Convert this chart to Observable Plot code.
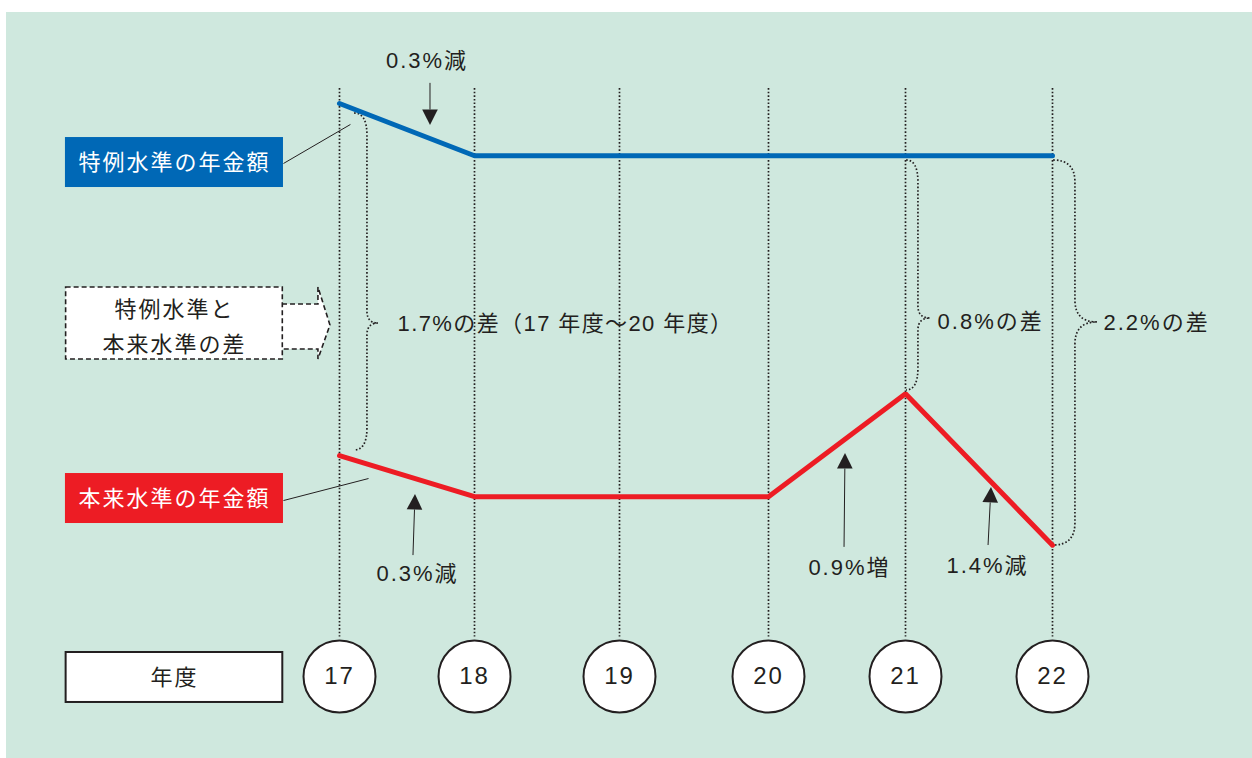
<!DOCTYPE html>
<html><head><meta charset="utf-8">
<script src="https://cdn.jsdelivr.net/npm/d3@7"></script>
<script src="https://cdn.jsdelivr.net/npm/@observablehq/plot@0.6"></script>
<style>
html,body{margin:0;padding:0;background:#fff;}
#wrap{padding:12px 0 0 6px;width:1246px;height:746px;}
#wrap svg{display:block;background:#cfe8de;}
#wrap svg text{letter-spacing:2px;}
</style></head>
<body><div id="wrap"></div>
<script>
// ---- data ----
const years = [17, 18, 19, 20, 21, 22];
const yearLabels = ["17", "18", "19", "20", "21", "22"];
const tokureiLevel = [87.8, 80.8, 80.8, 80.8, 80.8, 80.8];
const honraiLevel  = [40.6, 35.1, 35.1, 35.1, 48.9, 28.6];
const seriesNames = ["特例水準の年金額", "本来水準の年金額"];
const diffBoxText = "特例水準と\n本来水準の差";
const yearBoxText = "年度";
const changeLabels = ["0.3%減", "0.3%減", "0.9%増", "1.4%減"];
const gapLabels = ["1.7%の差（17 年度～20 年度）", "0.8%の差", "2.2%の差"];

const rows = years.flatMap((yr, i) => [
  {year: yr, level: tokureiLevel[i], series: seriesNames[0]},
  {year: yr, level: honraiLevel[i], series: seriesNames[1]}
]);

// ---- styles ----
const INK = "#231f20", BLUE = "#0068b6", RED = "#ed1c24";
const FONT = "'Liberation Sans', 'Noto Sans CJK JP', sans-serif";

// ---- annotation layout (data coordinates) ----
const arrowLayout = [
  {tail: [17.674, 90.5], tip: [17.674, 84.85], at: [17.648, 93.57]},
  {tail: [17.548, 27.2], tip: [17.563, 35.39], at: [17.578, 24.80]},
  {tail: [20.555, 28.3], tip: [20.562, 40.88], at: [20.591, 25.60]},
  {tail: [21.565, 28.55], tip: [21.585, 36.33], at: [21.558, 25.87]}
];
const braceLayout = [
  {xs: 17.111, xb: 17.207, xt: 17.289, yTop: 86.46, yTip: 58.31, yBot: 41.29, at: [17.430, 58.31]},
  {xs: 21.007, xb: 21.088, xt: 21.170, yTop: 80.16, yTip: 58.98, yBot: 49.33, at: [21.218, 58.58]},
  {xs: 22.007, xb: 22.156, xt: 22.306, yTop: 80.16, yTip: 58.45, yBot: 28.55, at: [22.347, 58.45]}
];
const boxX = [14.975, 16.580], boxCx = 15.778;

function svgMark(draw) {
  return (index, scales) => {
    const g = d3.create("svg:g");
    draw(g, scales.x, scales.y);
    return g.node();
  };
}

const arrowsMark = svgMark((g, X, Y) => {
  for (const a of arrowLayout) {
    const x0 = X(a.tail[0]), y0 = Y(a.tail[1]), x1 = X(a.tip[0]), y1 = Y(a.tip[1]);
    const len = Math.hypot(x1 - x0, y1 - y0), ux = (x1 - x0) / len, uy = (y1 - y0) / len;
    const hl = 15.5, hw = 7.8;
    const bx = x1 - ux * hl, by = y1 - uy * hl;
    g.append("line").attr("x1", x0).attr("y1", y0).attr("x2", bx).attr("y2", by)
      .attr("stroke", INK).attr("stroke-width", 1);
    g.append("path").attr("d", `M${x1},${y1}L${bx - uy * hw},${by + ux * hw}L${bx + uy * hw},${by - ux * hw}Z`)
      .attr("fill", INK);
  }
});

const bracesMark = svgMark((g, X, Y) => {
  for (const b of braceLayout) {
    const xs = X(b.xs), xb = X(b.xb), xt = X(b.xt);
    const yT = Y(b.yTop), yM = Y(b.yTip), yB = Y(b.yBot);
    const r = 22, r2 = Math.max(12, xt - xb);
    const p = d3.path();
    p.moveTo(xs, yT);
    p.quadraticCurveTo(xb, yT, xb, yT + r);
    p.lineTo(xb, yM - r2);
    p.quadraticCurveTo(xb, yM, xt, yM);
    p.quadraticCurveTo(xb, yM, xb, yM + r2);
    p.lineTo(xb, yB - r);
    p.quadraticCurveTo(xb, yB, xs, yB);
    g.append("path").attr("d", p.toString()).attr("fill", "none")
      .attr("stroke", INK).attr("stroke-width", 1.7).attr("stroke-dasharray", "1.6 2");
  }
});

const blockArrowMark = svgMark((g, X, Y) => {
  const pts = [[16.578, 60.86], [16.844, 60.86], [16.844, 63.14], [16.933, 58.05],
               [16.844, 53.49], [16.844, 54.83], [16.578, 54.83]];
  g.append("path").attr("d", "M" + pts.map(([a, b]) => `${X(a)},${Y(b)}`).join("L"))
    .attr("fill", "#fff").attr("stroke", INK).attr("stroke-width", 1.6)
    .attr("stroke-dasharray", "5 3");
});

const one = [0];
const chart = Plot.plot({
  width: 1246, height: 746,
  margin: 0,
  x: {type: "linear", domain: years, range: [333, 468, 613, 762, 899, 1046], axis: null},
  y: {domain: [0, 100], range: [746, 0], axis: null},
  color: {domain: seriesNames, range: [BLUE, RED]},
  style: {fontFamily: FONT, background: "#cfe8de", color: INK},
  marks: [
    Plot.ruleX(years, {x: d => d, y1: 89.8, y2: 16.3, stroke: INK, strokeWidth: 1.7, strokeDasharray: "1.6 2"}),
    bracesMark,
    blockArrowMark,
    Plot.rect(one, {x1: boxX[0], x2: boxX[1], y1: 53.49, y2: 63.14, fill: "#fff", stroke: INK, strokeWidth: 1.6, strokeDasharray: "5 3"}),
    Plot.text(one, {x: boxCx, y: 58.31, text: () => diffBoxText, fontSize: 22, lineHeight: 1.6, fill: INK}),
    Plot.line(rows, {x: "year", y: "level", z: "series", stroke: "series", strokeWidth: 5, strokeLinejoin: "miter"}),
    Plot.link(one, {x1: 16.585, y1: 79.76, x2: 17.081, y2: 84.99, stroke: INK, strokeWidth: 1}),
    Plot.link(one, {x1: 16.585, y1: 34.58, x2: 17.215, y2: 37.53, stroke: INK, strokeWidth: 1}),
    Plot.rect(one, {x1: 14.970, x2: 16.585, y1: 76.54, y2: 83.24, fill: BLUE}),
    Plot.rect(one, {x1: 14.970, x2: 16.585, y1: 31.50, y2: 38.20, fill: RED}),
    Plot.text(one, {x: boxCx, y: 79.89, text: () => seriesNames[0], fill: "#fff", fontSize: 22}),
    Plot.text(one, {x: boxCx, y: 34.85, text: () => seriesNames[1], fill: "#fff", fontSize: 22}),
    arrowsMark,
    Plot.text(arrowLayout, {x: d => d.at[0], y: d => d.at[1], text: (d, i) => changeLabels[i], fontSize: 22, fill: INK}),
    Plot.text(braceLayout, {x: d => d.at[0], y: d => d.at[1], text: (d, i) => gapLabels[i], fontSize: 22, textAnchor: "start", fill: INK}),
    Plot.rect(one, {x1: boxX[0], x2: boxX[1], y1: 7.51, y2: 14.21, fill: "#fff", stroke: INK, strokeWidth: 2}),
    Plot.text(one, {x: boxCx, y: 10.86, text: () => yearBoxText, fontSize: 22, fill: INK}),
    Plot.dot(years, {x: d => d, y: 10.99, r: 36, fill: "#fff", stroke: INK, strokeWidth: 2}),
    Plot.text(years, {x: d => d, y: 10.99, text: (d, i) => yearLabels[i], fontSize: 24, fill: INK})
  ]
});
// tighter tracking for the long gap label
d3.select(chart).selectAll("text").filter(function() { return this.textContent === gapLabels[0]; })
  .style("letter-spacing", "1.4px");
document.getElementById("wrap").appendChild(chart);
</script>
</body></html>
